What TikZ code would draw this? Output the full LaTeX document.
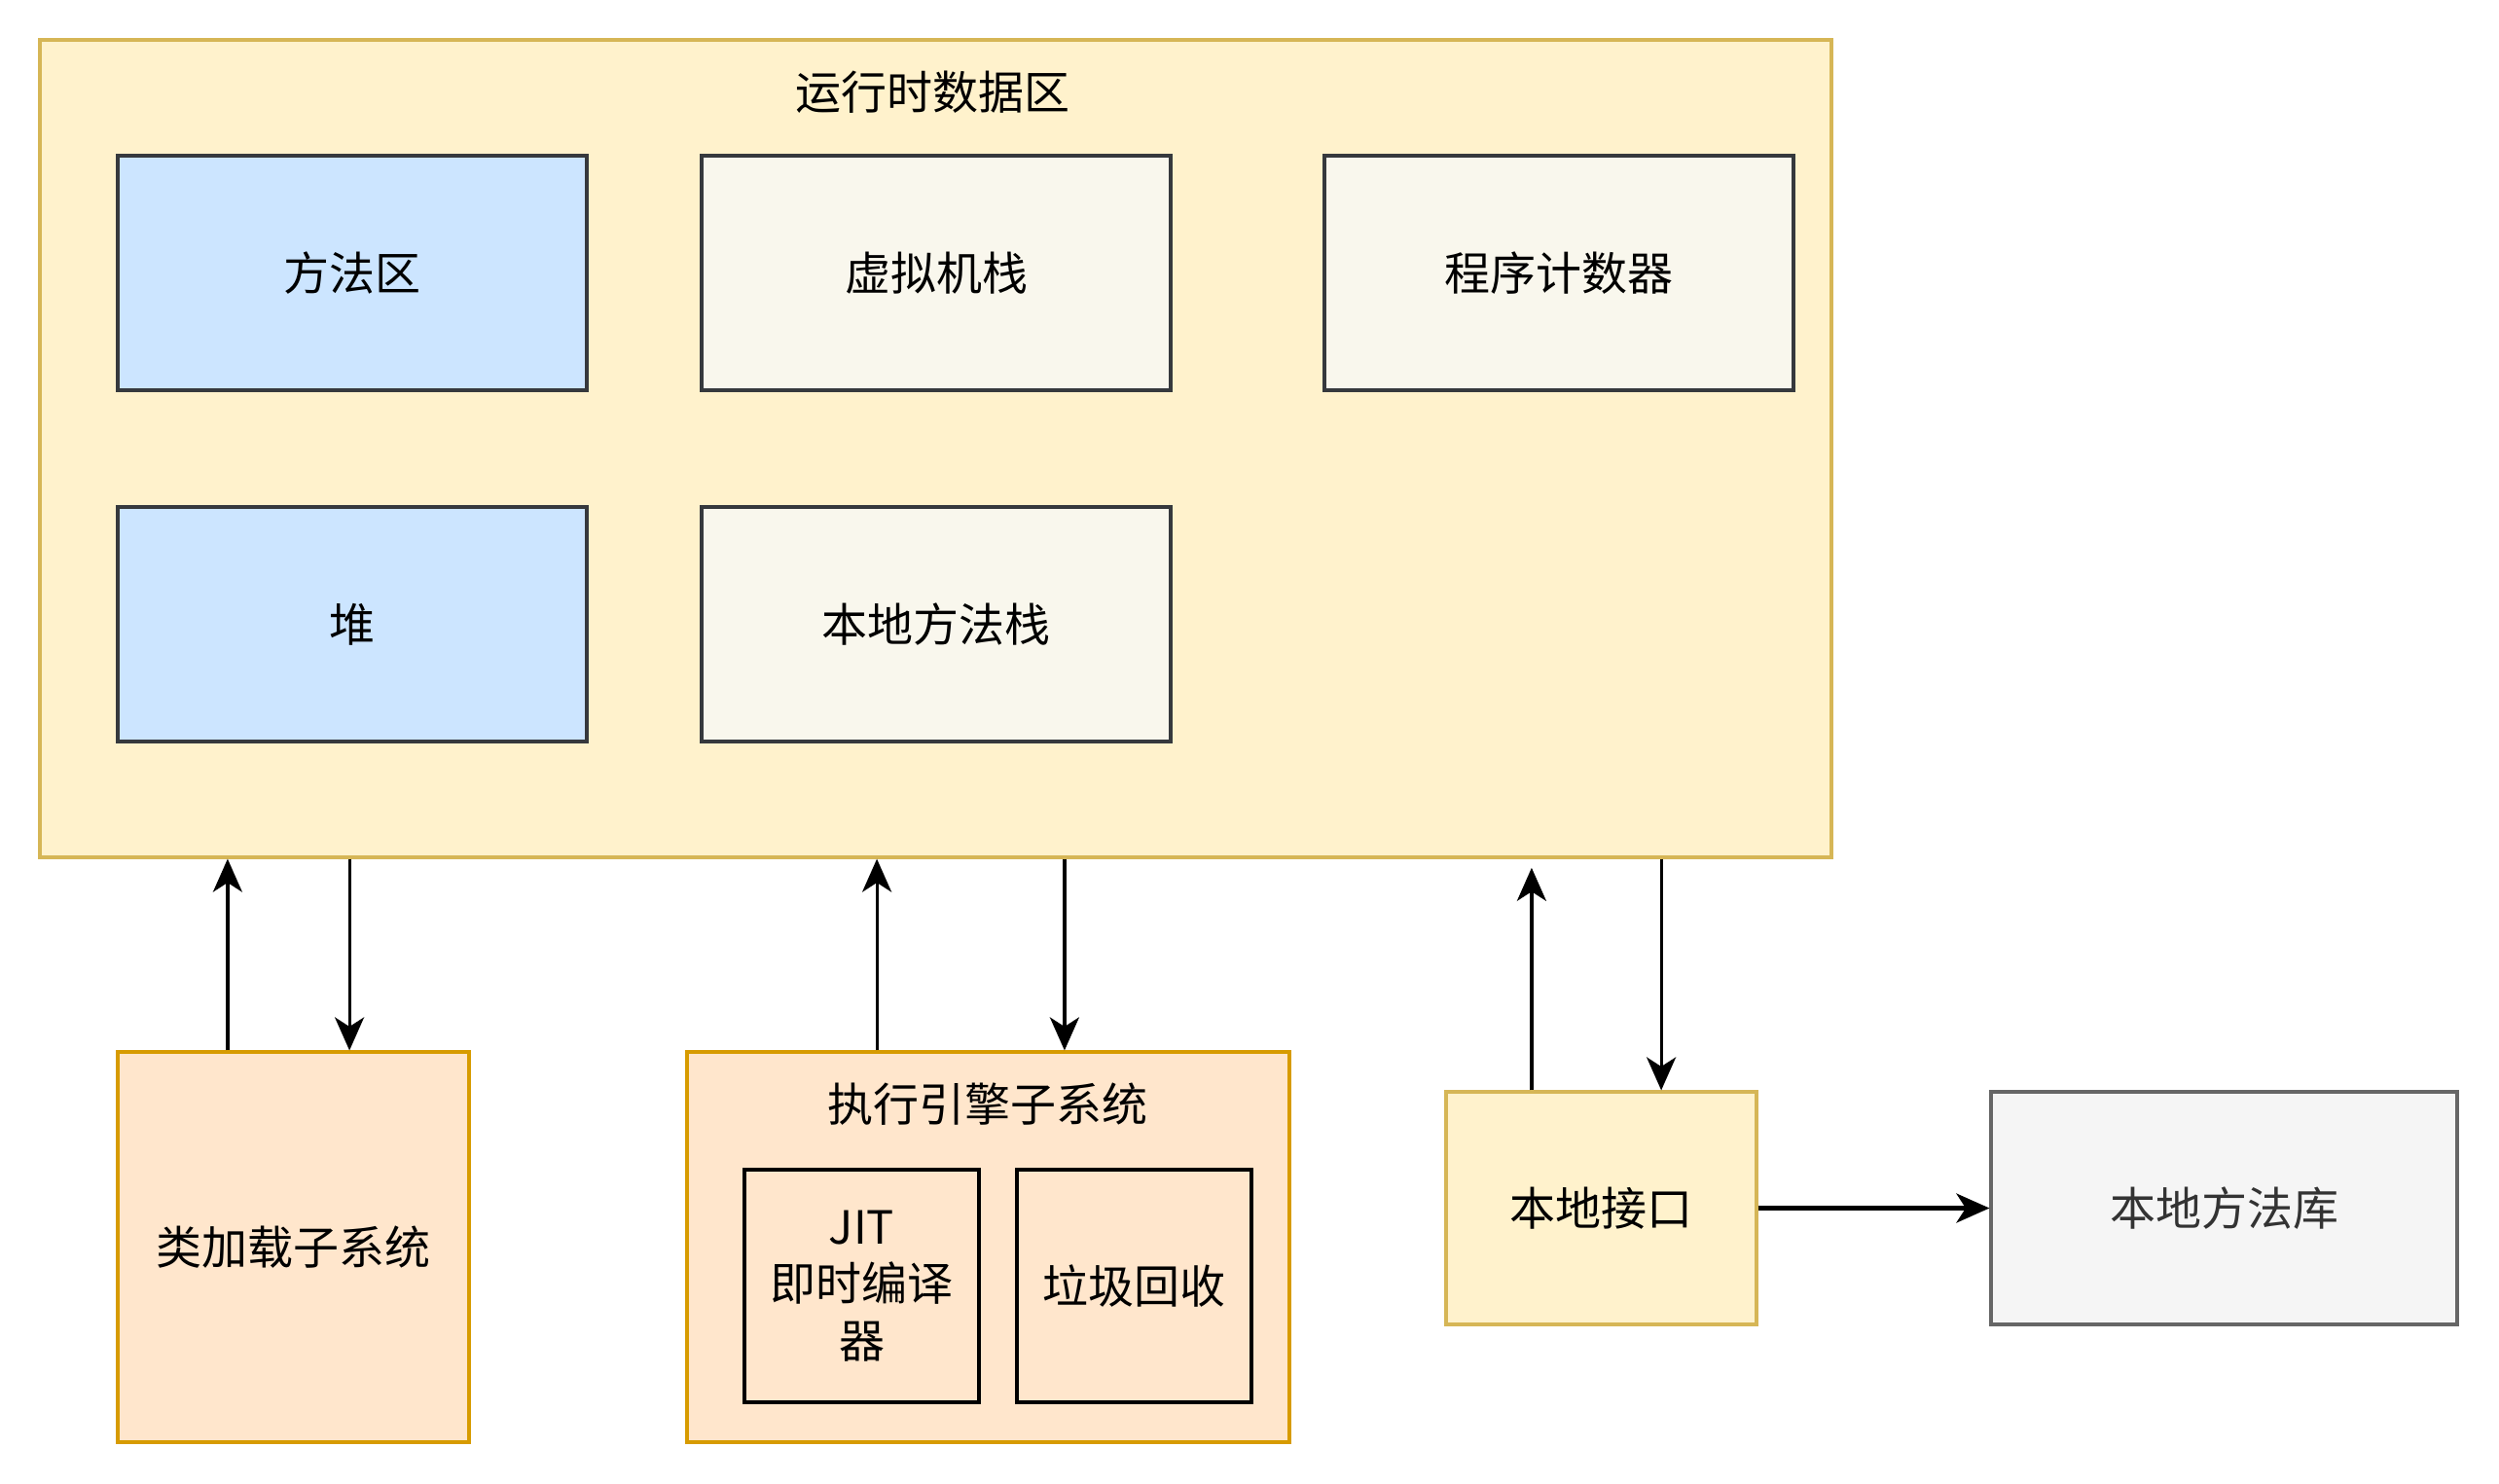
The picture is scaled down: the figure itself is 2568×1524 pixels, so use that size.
\documentclass[tikz,border=0pt]{standalone}
\usepackage{fontspec}
\setmainfont{Noto Sans CJK SC}
\usetikzlibrary{positioning, arrows.meta}

\definecolor{areaFill}{HTML}{FFF2CC}
\definecolor{areaLine}{HTML}{D6B656}
\definecolor{blueFill}{HTML}{CCE5FF}
\definecolor{darkLine}{HTML}{36393D}
\definecolor{beigeFill}{HTML}{F9F7ED}
\definecolor{subFill}{HTML}{FFE6CC}
\definecolor{subLine}{HTML}{D79B00}
\definecolor{libFill}{HTML}{F5F5F5}
\definecolor{libLine}{HTML}{666666}
\definecolor{libText}{HTML}{333333}

\begin{document}
\begin{tikzpicture}[
      x=0.25pt, y=-0.25pt,
      font=\fontsize{11.75}{14.7}\selectfont,
      box/.style={rectangle, draw, line width=0.8pt, align=center,
      inner sep=0pt},
      area/.style={box, fill=areaFill, draw=areaLine},
      shared/.style={box, fill=blueFill, draw=darkLine,
      minimum width=120.5pt, minimum height=60.25pt},
      private/.style={box, fill=beigeFill, draw=darkLine,
      minimum width=120.5pt, minimum height=60.25pt},
      subsys/.style={box, fill=subFill, draw=subLine},
      part/.style={box, fill=subFill, draw=black, line width=1.1pt,
      minimum width=60.25pt, minimum height=59.75pt},
      line/.style={draw, -{Stealth[length=8.5pt, width=7.5pt, inset=2.4pt]},
      line width=0.8pt}
    ]
    \useasboundingbox (0,0) rectangle (2568,1524);

    % Runtime data area
    \node [area, minimum width=460.25pt, minimum height=210pt]
      (rda) at (961.5,461) {};
    \node (rdatitle) at (958,95) {运行时数据区};
    \node [shared] (method) at (362,280.5) {方法区};
    \node [private] (vmstack) at (962,280.5) {虚拟机栈};
    \node [private] (pc) at (1602,280.5) {程序计数器};
    \node [shared] (heap) at (362,641.5) {堆};
    \node [private] (nstack) at (962,641.5) {本地方法栈};

    % Subsystems
    \node [subsys, minimum width=90.25pt, minimum height=100.25pt]
      (loader) at (301.5,1281.5) {类加载子系统};
    \node [subsys, minimum width=154.75pt, minimum height=100.25pt]
      (engine) at (1015.5,1281.5) {};
    \node (enginetitle) at (1015,1135) {执行引擎子系统};
    \node [part] (jit) at (885.5,1321.5) {JIT\\即时编译\\器};
    \node [part] (gc) at (1165.5,1321.5) {垃圾回收};
    \node [area, minimum width=79.75pt, minimum height=59.75pt]
      (jni) at (1645.5,1241.5) {本地接口};
    \node [box, fill=libFill, draw=libLine, text=libText,
      minimum width=119.75pt, minimum height=59.75pt]
      (lib) at (2285.5,1241.5) {本地方法库};

    % Paths
    \path [line] ([xshift=-16.9pt]loader.north)
      -- ([xshift=-16.9pt]loader.north |- rda.south);
    \path [line] ([xshift=14.4pt]loader.north |- rda.south)
      -- ([xshift=14.4pt]loader.north);
    \path [line] ([xshift=-28.6pt]engine.north)
      -- ([xshift=-28.6pt]engine.north |- rda.south);
    \path [line] ([xshift=19.6pt]engine.north |- rda.south)
      -- ([xshift=19.6pt]engine.north);
    \path [line, shorten >=2.3pt] ([xshift=-17.9pt]jni.north)
      -- ([xshift=-17.9pt]jni.north |- rda.south);
    \path [line] ([xshift=15.4pt]jni.north |- rda.south)
      -- ([xshift=15.4pt]jni.north);
    \path [line, line width=1.1pt] (jni) -- (lib);
  \end{tikzpicture}
\end{document}
